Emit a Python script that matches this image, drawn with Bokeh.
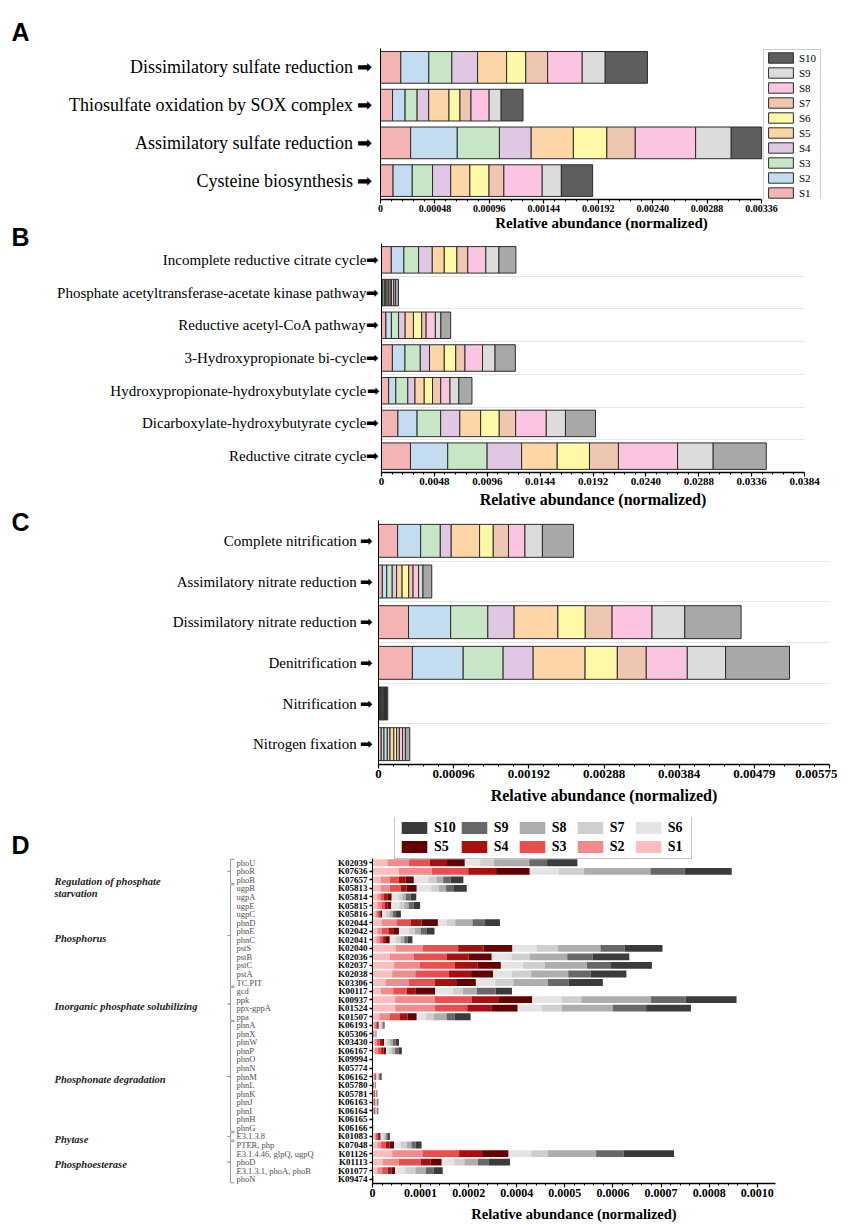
import numpy as np
from bokeh.plotting import figure
from bokeh.models import (Range1d, FixedTicker, Legend, LegendItem,
                          ColumnDataSource, CustomJSTickFormatter)
from bokeh.layouts import column, row
from bokeh.embed import file_html
from bokeh.resources import INLINE
from bokeh.core.properties import value

SERIF = "Liberation Serif"
SANS = "Liberation Sans"
SAMPLES = ["S1", "S2", "S3", "S4", "S5", "S6", "S7", "S8", "S9", "S10"]
AXIS_TITLE = "Relative abundance (normalized)"

# ---------------- Panel A : sulfur ----------------
a_pathways = ["Dissimilatory sulfate reduction", "Thiosulfate oxidation by SOX complex",
              "Assimilatory sulfate reduction", "Cysteine biosynthesis"]
a_S1 = [0.000179, 0.000106, 0.000266, 0.000111]
a_S2 = [0.000247, 0.000111, 0.000411, 0.000169]
a_S3 = [0.000203, 0.000106, 0.000372, 0.000179]
a_S4 = [0.000227, 0.000102, 0.000280, 0.000160]
a_S5 = [0.000256, 0.000179, 0.000372, 0.000169]
a_S6 = [0.000169, 0.000097, 0.000295, 0.000169]
a_S7 = [0.000193, 0.000097, 0.000251, 0.000131]
a_S8 = [0.000305, 0.000160, 0.000532, 0.000338]
a_S9 = [0.000203, 0.000106, 0.000314, 0.000169]
a_S10 = [0.000372, 0.000193, 0.000268, 0.000276]
a_ticks = [0, 0.00048, 0.00096, 0.00144, 0.00192, 0.00240, 0.00288, 0.00336]
a_tick_labels = ["0", "0.00048", "0.00096", "0.00144", "0.00192", "0.00240", "0.00288", "0.00336"]

# ---------------- Panel B : carbon fixation ----------------
b_pathways = ["Incomplete reductive citrate cycle", "Phosphate acetyltransferase-acetate kinase pathway",
              "Reductive acetyl-CoA pathway", "3-Hydroxypropionate bi-cycle",
              "Hydroxypropionate-hydroxybutylate cycle", "Dicarboxylate-hydroxybutyrate cycle",
              "Reductive citrate cycle"]
b_S1 = [0.00089, 0.00012, 0.00040, 0.00099, 0.00065, 0.00149, 0.00263]
b_S2 = [0.00114, 0.00014, 0.00050, 0.00114, 0.00065, 0.00174, 0.00338]
b_S3 = [0.00134, 0.00013, 0.00065, 0.00139, 0.00109, 0.00214, 0.00358]
b_S4 = [0.00124, 0.00012, 0.00060, 0.00084, 0.00065, 0.00174, 0.00313]
b_S5 = [0.00109, 0.00015, 0.00075, 0.00134, 0.00084, 0.00189, 0.00323]
b_S6 = [0.00114, 0.00013, 0.00075, 0.00104, 0.00075, 0.00169, 0.00293]
b_S7 = [0.00099, 0.00012, 0.00040, 0.00084, 0.00075, 0.00149, 0.00263]
b_S8 = [0.00164, 0.00020, 0.00084, 0.00159, 0.00084, 0.00278, 0.00537]
b_S9 = [0.00119, 0.00015, 0.00050, 0.00114, 0.00080, 0.00174, 0.00323]
b_S10 = [0.00154, 0.00028, 0.00089, 0.00184, 0.00119, 0.00273, 0.00482]
b_ticks = [0, 0.0048, 0.0096, 0.0144, 0.0192, 0.0240, 0.0288, 0.0336, 0.0384]
b_tick_labels = ["0", "0.0048", "0.0096", "0.0144", "0.0192", "0.0240", "0.0288", "0.0336", "0.0384"]

# ---------------- Panel C : nitrogen ----------------
c_pathways = ["Complete nitrification", "Assimilatory nitrate reduction",
              "Dissimilatory nitrate reduction", "Denitrification", "Nitrification",
              "Nitrogen fixation"]
c_S1 = [0.000244, 0.000049, 0.000383, 0.000432, 0.000010, 0.000035]
c_S2 = [0.000293, 0.000056, 0.000537, 0.000648, 0.000012, 0.000035]
c_S3 = [0.000251, 0.000070, 0.000474, 0.000509, 0.000011, 0.000042]
c_S4 = [0.000139, 0.000056, 0.000335, 0.000383, 0.000010, 0.000035]
c_S5 = [0.000362, 0.000070, 0.000558, 0.000662, 0.000014, 0.000049]
c_S6 = [0.000174, 0.000084, 0.000349, 0.000411, 0.000011, 0.000035]
c_S7 = [0.000195, 0.000056, 0.000342, 0.000369, 0.000010, 0.000035]
c_S8 = [0.000209, 0.000070, 0.000509, 0.000523, 0.000012, 0.000042]
c_S9 = [0.000223, 0.000056, 0.000418, 0.000488, 0.000011, 0.000035]
c_S10 = [0.000397, 0.000112, 0.000718, 0.000815, 0.000017, 0.000056]
c_ticks = [0, 0.000958, 0.001917, 0.002875, 0.003833, 0.004792, 0.00575]
c_tick_labels = ["0", "0.00096", "0.00192", "0.00288", "0.00384", "0.00479", "0.00575"]

# ---------------- Panel D : phosphorus genes (values in units of 1e-4) ----------------
D_UNIT = 1e-4
d_ko = ["K02039", "K07636", "K07657", "K05813", "K05814", "K05815", "K05816", "K02044",
        "K02042", "K02041", "K02040", "K02036", "K02037", "K02038", "K03306", "K00117",
        "K00937", "K01524", "K01507", "K06193", "K05306", "K03430", "K06167", "K09994",
        "K05774", "K06162", "K05780", "K05781", "K06163", "K06164", "K06165", "K06166",
        "K01083", "K07048", "K01126", "K01113", "K01077", "K09474"]
d_gene = ["phoU", "phoR", "phoB", "ugpB", "ugpA", "ugpE", "ugpC", "phnD", "phnE", "phnC",
          "pstS", "pstB", "pstC", "pstA", "TC.PIT", "gcd", "ppk", "ppx-gppA", "ppa", "phnA",
          "phnX", "phnW", "phnP", "phnO", "phnN", "phnM", "phnL", "phnK", "phnJ", "phnI",
          "phnH", "phnG", "E3.1.3.8", "PTER, php", "E3.1.4.46, glpQ, ugpQ", "phoD",
          "E3.1.3.1, phoA, phoB", "phoN"]
d_groups = ["Regulation of phosphate|starvation", "Phosphorus", "Inorganic phosphate solubilizing",
            "Phosphonate degradation", "Phytase", "Phosphoesterase"]
d_group_first = [0, 3, 15, 19, 32, 33]
d_group_last = [2, 14, 18, 31, 32, 37]
d_S1 = [0.31, 0.55, 0.17, 0.17, 0.10, 0.10, 0.06, 0.19, 0.10, 0.08, 0.48, 0.36, 0.45, 0.41, 0.28, 0.17, 0.47, 0.47, 0.14, 0.03, 0.01, 0.04, 0.05, 0.001, 0.001, 0.02, 0.01, 0.01, 0.015, 0.015, 0.002, 0.002, 0.04, 0.10, 0.41, 0.21, 0.10, 0.003]
d_S2 = [0.45, 0.68, 0.19, 0.19, 0.07, 0.09, 0.04, 0.32, 0.09, 0.07, 0.57, 0.50, 0.53, 0.48, 0.48, 0.26, 0.83, 0.83, 0.21, 0.03, 0.01, 0.05, 0.06, 0.001, 0.001, 0.02, 0.005, 0.01, 0.01, 0.01, 0.002, 0.002, 0.03, 0.08, 0.63, 0.34, 0.10, 0.003]
d_S3 = [0.43, 0.76, 0.19, 0.23, 0.07, 0.07, 0.04, 0.28, 0.14, 0.07, 0.73, 0.68, 0.73, 0.70, 0.54, 0.28, 0.76, 0.67, 0.21, 0.03, 0.01, 0.06, 0.07, 0.001, 0.001, 0.02, 0.005, 0.01, 0.015, 0.015, 0.002, 0.002, 0.04, 0.10, 0.76, 0.45, 0.12, 0.003]
d_S4 = [0.36, 0.58, 0.14, 0.12, 0.07, 0.06, 0.03, 0.23, 0.10, 0.06, 0.53, 0.46, 0.48, 0.46, 0.44, 0.18, 0.57, 0.50, 0.17, 0.02, 0.005, 0.05, 0.05, 0.001, 0.001, 0.01, 0.005, 0.01, 0.01, 0.01, 0.002, 0.002, 0.03, 0.08, 0.48, 0.21, 0.08, 0.003]
d_S5 = [0.37, 0.70, 0.17, 0.21, 0.09, 0.07, 0.03, 0.34, 0.12, 0.08, 0.60, 0.48, 0.48, 0.46, 0.41, 0.41, 0.69, 0.55, 0.19, 0.02, 0.005, 0.04, 0.05, 0.001, 0.001, 0.01, 0.005, 0.01, 0.01, 0.01, 0.002, 0.002, 0.03, 0.09, 0.55, 0.23, 0.07, 0.003]
d_S6 = [0.32, 0.60, 0.30, 0.30, 0.14, 0.17, 0.08, 0.19, 0.21, 0.12, 0.50, 0.41, 0.46, 0.38, 0.40, 0.37, 0.61, 0.50, 0.19, 0.03, 0.01, 0.06, 0.06, 0.001, 0.001, 0.02, 0.01, 0.01, 0.01, 0.01, 0.002, 0.002, 0.05, 0.14, 0.47, 0.26, 0.21, 0.003]
d_S7 = [0.28, 0.53, 0.17, 0.16, 0.08, 0.10, 0.07, 0.17, 0.12, 0.10, 0.45, 0.38, 0.45, 0.41, 0.38, 0.21, 0.41, 0.41, 0.17, 0.03, 0.01, 0.06, 0.07, 0.001, 0.001, 0.02, 0.005, 0.01, 0.015, 0.015, 0.002, 0.002, 0.04, 0.12, 0.34, 0.21, 0.21, 0.003]
d_S8 = [0.74, 1.38, 0.14, 0.15, 0.07, 0.09, 0.07, 0.36, 0.12, 0.08, 0.88, 0.78, 0.88, 0.77, 0.72, 0.29, 1.45, 1.07, 0.26, 0.02, 0.005, 0.06, 0.06, 0.001, 0.001, 0.02, 0.005, 0.01, 0.01, 0.01, 0.002, 0.002, 0.03, 0.10, 1.01, 0.28, 0.22, 0.003]
d_S9 = [0.37, 0.71, 0.16, 0.15, 0.10, 0.10, 0.07, 0.26, 0.12, 0.07, 0.50, 0.53, 0.50, 0.47, 0.43, 0.39, 0.72, 0.69, 0.17, 0.02, 0.005, 0.06, 0.07, 0.001, 0.001, 0.02, 0.005, 0.01, 0.01, 0.01, 0.002, 0.002, 0.03, 0.09, 0.57, 0.23, 0.16, 0.003]
d_S10 = [0.63, 0.98, 0.26, 0.28, 0.12, 0.14, 0.10, 0.31, 0.17, 0.10, 0.79, 0.76, 0.85, 0.74, 0.71, 0.34, 1.06, 0.93, 0.33, 0.02, 0.01, 0.07, 0.07, 0.001, 0.001, 0.03, 0.01, 0.01, 0.015, 0.015, 0.002, 0.002, 0.04, 0.12, 1.05, 0.44, 0.19, 0.003]
d_ticks = [0, 0.0001, 0.0002, 0.0003, 0.0004, 0.0005, 0.0006, 0.0007, 0.0008]
d_tick_labels = ["0", "0.0001", "0.0002", "0.0004", "0.0005", "0.0006", "0.0007", "0.0008", "0.0010"]

# ---------------- colours ----------------
PASTEL_A = ["#f4b4b4", "#c4dcf0", "#c6e6c6", "#e0c7e4", "#fdd5a7", "#fdf9a7",
            "#efc6b0", "#fbc5e2", "#dcdcdc", "#5e5e5e"]
PASTEL_BC = PASTEL_A[:9] + ["#a8a8a8"]
RED_GRAY = ["#ffbdbd", "#f28b8b", "#e94f4f", "#a80f0f", "#640000",
            "#e4e4e4", "#cfcfcf", "#adadad", "#686868", "#3b3b3b"]

STRIP_W = 38          # width of the left strip that carries the panel letters A-C


def label_formatter(values, labels):
    return CustomJSTickFormatter(args=dict(tv=list(values), labels=list(labels)), code="""
        let best = 0, bd = Infinity;
        for (let i = 0; i < tv.length; i++) {
            const d = Math.abs(tv[i] - tick);
            if (d < bd) { bd = d; best = i; }
        }
        return labels[best];
    """)


def build_panel(height, mt, mb, ml, fw, mr, cats, x_end, y_top, series, colors,
                bar_h, line_color, line_w, cat_font, cat_standoff, ytick_out=0):
    n = len(cats)
    p = figure(width=ml + fw + mr, height=height, output_backend="svg", toolbar_location=None,
               x_range=Range1d(0, x_end), y_range=Range1d(n - 0.5, y_top),
               min_border_left=ml, min_border_right=mr, min_border_top=mt, min_border_bottom=mb)
    p.frame_align = False
    p.outline_line_color = None
    p.xgrid.visible = False
    data = dict(y=list(range(n)))
    for s, vals in zip(SAMPLES, series):
        data[s] = list(vals)
    src = ColumnDataSource(data)
    rs = p.hbar_stack(SAMPLES, y="y", height=bar_h, fill_color=colors, line_color=line_color,
                      line_width=line_w, source=src)
    ya = p.yaxis[0]
    ya.ticker = FixedTicker(ticks=list(range(n)))
    ya.formatter = label_formatter(range(n), cats)
    ya.bounds = (-0.5, n - 0.5)
    ya.major_label_text_font = SERIF
    ya.major_label_text_font_size = cat_font
    ya.major_label_text_color = "black"
    ya.major_label_standoff = cat_standoff
    ya.major_tick_out = ytick_out
    ya.major_tick_in = 0
    ya.major_tick_line_width = 1.5
    ya.axis_line_width = 1
    return p, rs


def style_x(p, ticks, labels, title_standoff, tick_font, title_font):
    ax = p.xaxis[0]
    minor = []
    for a, b in zip(ticks[:-1], ticks[1:]):
        minor += [float(v) for v in np.linspace(a, b, 6)[1:-1]]
    ax.ticker = FixedTicker(ticks=list(ticks), minor_ticks=minor)
    ax.formatter = label_formatter(ticks, labels)
    ax.bounds = (ticks[0], ticks[-1])
    ax.axis_label = AXIS_TITLE
    ax.axis_label_text_font = SERIF
    ax.axis_label_text_font_style = "bold"
    ax.axis_label_text_font_size = title_font
    ax.axis_label_text_color = "black"
    ax.axis_label_standoff = title_standoff
    ax.major_label_text_font = SERIF
    ax.major_label_text_font_style = "bold"
    ax.major_label_text_font_size = tick_font
    ax.major_label_text_color = "black"
    ax.major_label_standoff = 1
    ax.axis_line_width = 1.5
    ax.major_tick_out = 4
    ax.major_tick_in = 0
    ax.minor_tick_out = 2
    ax.minor_tick_in = 0
    ax.major_tick_line_width = 1.2


def canvas(width, height):
    c = figure(width=width, height=height, output_backend="svg", toolbar_location=None,
               x_range=Range1d(0, width), y_range=Range1d(height, 0),
               x_axis_location=None, y_axis_location=None, min_border=0)
    c.frame_align = False
    c.outline_line_color = None
    c.grid.visible = False
    return c


# ---------- A ----------
A_H, A_MT, A_MB = 235, 48, 36
A_AXIS_W, A_FW = 381, 442            # axis length and frame width (frame also holds the legend)
A_XEND = a_ticks[-1] * A_FW / A_AXIS_W
pA, rsA = build_panel(A_H, A_MT, A_MB, 380 - STRIP_W, A_FW, 8,
                      [c + " \u27a1" for c in a_pathways], A_XEND, -0.5,
                      [a_S1, a_S2, a_S3, a_S4, a_S5, a_S6, a_S7, a_S8, a_S9, a_S10],
                      PASTEL_A, 0.84, "#2b2b2b", 1, "18px", 8)
style_x(pA, a_ticks, a_tick_labels, 0, "10px", "15px")
pA.ygrid.visible = False
legA = Legend(items=[LegendItem(label=SAMPLES[i], renderers=[rsA[i]]) for i in range(9, -1, -1)],
              location="top_right", orientation="vertical",
              glyph_width=31, glyph_height=13, label_height=13, spacing=2, padding=1, margin=1,
              label_standoff=3, label_text_font=SERIF, label_text_font_size="11px",
              label_text_color="black",
              border_line_color="#9a9a9a", border_line_width=1, background_fill_color="white")
pA.add_layout(legA)

# ---------- B ----------
B_H, B_MT, B_MB = 277, 8, 40
pB, rsB = build_panel(B_H, B_MT, B_MB, 381 - STRIP_W, 423, 20,
                      [c + "\u27a1" for c in b_pathways], 0.0384, -0.5,
                      [b_S1, b_S2, b_S3, b_S4, b_S5, b_S6, b_S7, b_S8, b_S9, b_S10],
                      PASTEL_BC, 0.81, "#2b2b2b", 1, "15px", 2)
style_x(pB, b_ticks, b_tick_labels, 3, "11px", "16px")
pB.ygrid.ticker = FixedTicker(ticks=[i + 0.5 for i in range(len(b_pathways) - 1)])
pB.ygrid.grid_line_color = "#e6e6e6"

# ---------- C ----------
C_H, C_MT, C_MB = 297, 8, 45
pC, rsC = build_panel(C_H, C_MT, C_MB, 378 - STRIP_W, 451, 8,
                      [c + " \u27a1" for c in c_pathways], 0.00575, -0.5,
                      [c_S1, c_S2, c_S3, c_S4, c_S5, c_S6, c_S7, c_S8, c_S9, c_S10],
                      PASTEL_BC, 0.81, "#2b2b2b", 1, "15px", 5)
style_x(pC, c_ticks, c_tick_labels, 6, "13px", "16px")
pC.ygrid.ticker = FixedTicker(ticks=[i + 0.5 for i in range(len(c_pathways) - 1)])
pC.ygrid.grid_line_color = "#e6e6e6"

# letters A-C on a left strip
ABC_H = A_H + B_H + C_H
stripABC = canvas(STRIP_W, ABC_H)
stripABC.text(x=[11, 11, 11], y=[31, 236, 521], text=["A", "B", "C"], text_font=value(SANS),
              text_font_style="bold", text_font_size=value("25px"), text_color=value("black"),
              text_baseline="middle", text_align="left")

# ---------- D ----------
D_H, D_MT, D_MB, D_ML, D_FW = 416, 8, 42, 42, 403
D_LEG_H = 41                          # frame space above the first row, holding the legend
D_LEFT_W = 330
D_FH = D_H - D_MT - D_MB
row_h = (D_FH - D_LEG_H) / len(d_ko)
d_series = [[v * D_UNIT for v in s] for s in
            [d_S1, d_S2, d_S3, d_S4, d_S5, d_S6, d_S7, d_S8, d_S9, d_S10]]
D_XEND = 0.000838
pD, rsD = build_panel(D_H, D_MT, D_MB, D_ML, D_FW, 30, d_ko, D_XEND, -0.5 - D_LEG_H / row_h,
                      d_series, RED_GRAY, 0.8, None, 0, "9px", 2, ytick_out=3)
pD.yaxis[0].major_label_text_font_style = "bold"
style_x(pD, d_ticks, d_tick_labels, 6, "12px", "14.5px")
pD.xaxis[0].bounds = (0, D_XEND)
pD.ygrid.visible = False
LEG_D_H = 42                          # 2 rows of 17 px + spacing + padding
legD = Legend(items=[LegendItem(label=SAMPLES[i], renderers=[rsD[i]]) for i in range(9, -1, -1)],
              location=(22, D_FH - LEG_D_H), orientation="horizontal", ncols=5,
              glyph_width=32, glyph_height=15, label_height=17, spacing=2, padding=3, margin=0,
              label_standoff=4, label_width=20, label_text_font=SERIF,
              label_text_font_style="bold", label_text_font_size="14px", label_text_color="black",
              border_line_color="#8a8a8a", border_line_width=1.5, background_fill_color="white")
pD.add_layout(legD)

# left part of D: letter, group names, brackets, gene names (rows follow pD's frame)
stripD = canvas(D_LEFT_W, D_H)
row_y = [D_MT + D_LEG_H + (i + 0.5) * row_h for i in range(len(d_ko))]
stripD.text(x=[11], y=[35], text=["D"], text_font=value(SANS), text_font_style="bold",
            text_font_size=value("25px"), text_color=value("black"), text_baseline="middle")
stripD.text(x=[236] * len(d_gene), y=row_y, text=d_gene, text_font=value(SERIF),
            text_font_size=value("8.5px"), text_color=value("#505050"), text_baseline="middle",
            text_align="left")
g_x, g_y, g_t = [], [], []
br_xs, br_ys = [], []
for g, a, b in zip(d_groups, d_group_first, d_group_last):
    top, bot = row_y[a] - 0.42 * row_h, row_y[b] + 0.42 * row_h
    mid = (top + bot) / 2
    if "|" in g:
        l1, l2 = g.split("|")
        g_x += [54, 54]
        g_y += [row_y[a] + 2.2 * row_h, row_y[a] + 3.55 * row_h]
        g_t += [l1, l2]
    else:
        g_x.append(54)
        g_y.append(mid + 0.3 * row_h)
        g_t.append(g)
    br_xs.append([234, 230, 230, 227, 230, 230, 234])
    br_ys.append([top, top, mid, mid, mid, bot, bot])
stripD.text(x=g_x, y=g_y, text=g_t, text_font=value(SERIF), text_font_style="bold italic",
            text_font_size=value("10.5px"), text_color=value("#222222"), text_baseline="middle",
            text_align="left")
stripD.multi_line(xs=br_xs, ys=br_ys, line_color="#9a9a9a", line_width=1)

layout = column(row(stripABC, column(pA, pB, pC)), row(stripD, pD))
open("out.html", "w").write(file_html(layout, INLINE))
